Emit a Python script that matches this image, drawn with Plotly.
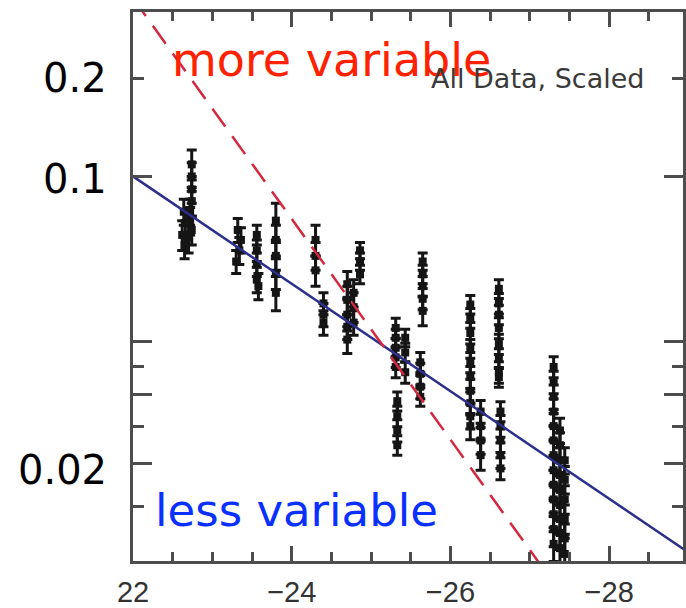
import math
import plotly.graph_objects as go

# ---- data ----
# absolute magnitude of each measurement
point_mag = [
    -22.74, -22.74, -22.74, -22.74, -22.72, -22.72, -22.74, -22.70,
    -22.64, -22.66, -22.62, -22.65,
    -23.32, -23.36, -23.34, -23.30,
    -23.56, -23.56, -23.56, -23.56, -23.58,
    -23.80, -23.80, -23.80, -23.80, -23.80,
    -24.30, -24.30, -24.30, -24.40, -24.40, -24.40,
    -24.70, -24.70, -24.70, -24.70, -24.70, -24.78, -24.78, -24.78,
    -24.86, -24.86, -24.86,
    -25.31, -25.31, -25.31, -25.31, -25.31, -25.43, -25.43, -25.43,
    -25.33, -25.33, -25.33, -25.33,
    -25.65, -25.65, -25.65, -25.65, -25.65,
    -25.62, -25.62, -25.62, -25.62,
    -26.25, -26.25, -26.25, -26.25, -26.25, -26.25, -26.25, -26.25, -26.25, -26.25,
    -26.38, -26.38, -26.38, -26.38,
    -26.61, -26.61, -26.61, -26.61, -26.61, -26.61, -26.61, -26.61,
    -26.63, -26.63, -26.63, -26.63, -26.63,
    -27.30, -27.30, -27.30, -27.30, -27.30, -27.30, -27.30, -27.30, -27.30,
    -27.30, -27.30, -27.30, -27.30,
    -27.38, -27.38, -27.38, -27.38, -27.38, -27.38, -27.38, -27.38, -27.38,
    -27.44, -27.44, -27.44, -27.44, -27.44, -27.44,
]
# fractional variability of each measurement
point_sigma = [
    0.107, 0.100, 0.093, 0.087, 0.082, 0.078, 0.074, 0.071,
    0.082, 0.077, 0.072, 0.068,
    0.074, 0.070, 0.066, 0.062,
    0.072, 0.066, 0.061, 0.056, 0.054,
    0.078, 0.070, 0.064, 0.058, 0.052,
    0.070, 0.064, 0.059, 0.049, 0.046, 0.044,
    0.0546, 0.050, 0.046, 0.043, 0.040, 0.052, 0.048, 0.044,
    0.066, 0.062, 0.0577,
    0.0427, 0.0404, 0.0382, 0.0362, 0.0343, 0.0404, 0.0372, 0.0333,
    0.0283, 0.0260, 0.0240, 0.0221,
    0.062, 0.0577, 0.054, 0.0503, 0.047,
    0.0352, 0.033, 0.0307, 0.029,
    0.0487, 0.0451, 0.0415, 0.038, 0.0352, 0.0324, 0.030, 0.028, 0.026, 0.0246,
    0.0267, 0.0246, 0.0227, 0.0209,
    0.0532, 0.049, 0.046, 0.0427, 0.039, 0.036, 0.0333, 0.0324,
    0.0267, 0.0246, 0.0227, 0.0209, 0.0194,
    0.0343, 0.0315, 0.029, 0.0267, 0.0246, 0.0227, 0.0209, 0.0192, 0.0177,
    0.0163, 0.015, 0.0138, 0.0127,
    0.024, 0.0221, 0.0203, 0.0187, 0.0172, 0.0158, 0.0146, 0.0135, 0.0124,
    0.0203, 0.0182, 0.0163, 0.0146, 0.0131, 0.012,
]
# error on each measurement
point_err = [
    0.009, 0.008, 0.007, 0.007, 0.006, 0.006, 0.006, 0.006,
    0.006, 0.006, 0.006, 0.005,
    0.005, 0.005, 0.005, 0.004,
    0.004, 0.004, 0.004, 0.004, 0.004,
    0.008, 0.006, 0.005, 0.005, 0.005,
    0.006, 0.005, 0.005, 0.003, 0.003, 0.003,
    0.004, 0.004, 0.004, 0.003, 0.003, 0.004, 0.004, 0.003,
    0.003, 0.003, 0.003,
    0.0024, 0.002, 0.002, 0.002, 0.002, 0.002, 0.002, 0.002,
    0.0015, 0.0015, 0.0015, 0.0012,
    0.003, 0.003, 0.003, 0.003, 0.0038,
    0.002, 0.002, 0.002, 0.0015,
    0.0025, 0.0025, 0.0025, 0.002, 0.002, 0.002, 0.002, 0.0018, 0.0018, 0.0018,
    0.0017, 0.0017, 0.0017, 0.0017,
    0.0028, 0.0028, 0.0025, 0.0025, 0.0022, 0.002, 0.002, 0.0018,
    0.0015, 0.0015, 0.0015, 0.0015, 0.0012,
    0.002, 0.002, 0.002, 0.002, 0.0018, 0.0018, 0.0017, 0.0016, 0.0015,
    0.0015, 0.0014, 0.0013, 0.0012,
    0.0017, 0.0016, 0.0015, 0.0015, 0.0014, 0.0013, 0.0012, 0.0012, 0.0011,
    0.0015, 0.0014, 0.0013, 0.0012, 0.0011, 0.0011,
]

# model relations (end points)
less_var_mag = [-22.0, -29.0]
less_var_sigma = [0.100, 0.0121]
more_var_mag = [-22.0, -27.5]
more_var_sigma = [0.272, 0.0090]

# axis ticks
x_major_vals = [-22, -24, -26, -28]
x_major_text = ["22", "\u221224", "\u221226", "\u221228"]
x_minor_vals = [-22.5, -23, -23.5, -24.5, -25, -25.5, -26.5, -27, -27.5, -28.5]
y_major_vals = [0.1, 0.0395, 0.0294, 0.02]
y_minor_vals = [0.173, 0.0344, 0.0246, 0.0157]
y_label_text = ["0.2", "0.1", "0.02"]
y_label_vals = [0.174, 0.0985, 0.0192]

x_range = [-22.0, -28.93]
y_range_log = [-1.938, -0.599]

TICK = "#4d4d4d"

fig = go.Figure()

fig.add_trace(go.Scatter(
    x=point_mag, y=point_sigma, mode="markers",
    marker=dict(symbol="square", size=8, color="#151515"),
    error_y=dict(type="data", array=point_err, symmetric=True,
                 color="#151515", thickness=3, width=5),
    showlegend=False, cliponaxis=True,
))

fig.add_trace(go.Scatter(
    x=less_var_mag, y=less_var_sigma, mode="lines",
    line=dict(color="#2c2f8c", width=2.5),
    showlegend=False, xaxis="x2", yaxis="y2",
))
fig.add_trace(go.Scatter(
    x=more_var_mag, y=more_var_sigma, mode="lines",
    line=dict(color="#d3283f", width=2.5, dash="22px,12px"),
    showlegend=False, xaxis="x2", yaxis="y2",
))

common = dict(showgrid=False, zeroline=False, mirror="ticks", ticks="inside",
              tickcolor=TICK, tickwidth=2.5)

fig.update_layout(
    width=686, height=608,
    margin=dict(l=133, r=0, t=12, b=35),
    paper_bgcolor="white", plot_bgcolor="white",
    showlegend=False,
    xaxis=dict(**common, showline=True, linecolor=TICK, linewidth=3,
               range=x_range, tickmode="array", tickvals=x_major_vals,
               ticktext=x_major_text, ticklen=15,
               tickfont=dict(family="Liberation Sans", size=29, color="#333333"),
               ticklabelstandoff=3),
    xaxis2=dict(**common, overlaying="x", showline=False, range=x_range,
                tickmode="array", tickvals=x_minor_vals, ticklen=9,
                showticklabels=False),
    yaxis=dict(**common, showline=True, linecolor=TICK, linewidth=3,
               type="log", range=y_range_log, tickmode="array",
               tickvals=y_major_vals, ticklen=19, showticklabels=False),
    yaxis2=dict(**common, overlaying="y", showline=False, type="log",
                range=y_range_log, tickmode="array", tickvals=y_minor_vals,
                ticklen=11, showticklabels=False),
)

for txt, val in zip(y_label_text, y_label_vals):
    fig.add_annotation(text=txt, xref="paper", yref="y", x=-0.043, y=math.log10(val),
                       xanchor="right", yanchor="middle", showarrow=False,
                       font=dict(family="DejaVu Sans", size=40, color="#000000"))

fig.add_annotation(text="more variable", xref="paper", yref="paper",
                   x=0.068, y=0.913, xanchor="left", yanchor="middle", showarrow=False,
                   font=dict(family="DejaVu Sans", size=46, color="#ff2200"))
fig.add_annotation(text="less variable", xref="paper", yref="paper",
                   x=0.036, y=0.092, xanchor="left", yanchor="middle", showarrow=False,
                   font=dict(family="DejaVu Sans", size=45, color="#0a30ff"))
fig.add_annotation(text="All Data, Scaled", xref="paper", yref="paper",
                   x=0.736, y=0.879, xanchor="center", yanchor="middle", showarrow=False,
                   font=dict(family="DejaVu Sans", size=27, color="#3a3a3a"))

fig.write_html("out.html")
